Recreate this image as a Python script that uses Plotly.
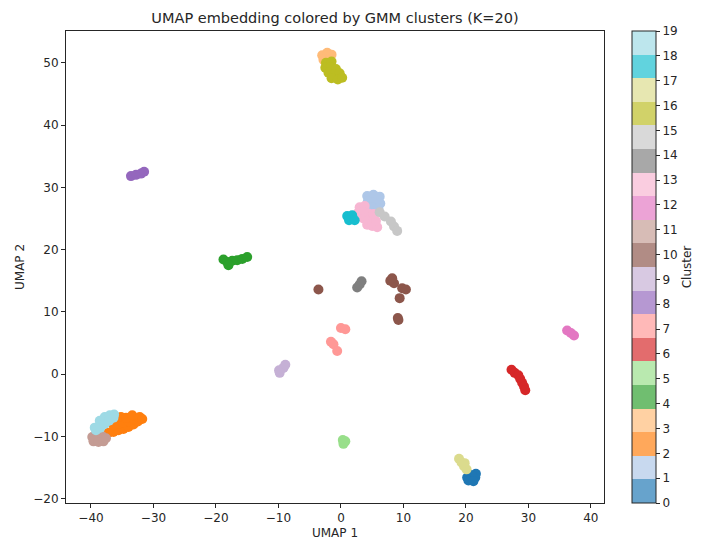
import plotly.graph_objects as go

# UMAP coordinates, grouped by GMM cluster label
umap1 = [
    20.2, 20.9, 21.5, 21.6, 20.6, 21.0, 20.4, 21.2,              # 0
    4.2, 5.2, 6.2, 4.3, 5.3, 6.3, 5.0, 6.0,                      # 1
    -37.2, -36.4, -35.6, -34.8, -34.0, -33.2, -32.5,
    -35.6, -34.8, -34.0, -33.2, -32.3,
    -35.2, -34.4, -33.4, -32.2, -31.8, -36.4,                    # 2
    -3.0, -2.2, -1.5, -2.8, -1.8,                                # 3
    -18.8, -18.2, -17.4, -16.6, -15.8, -15.0, -18.0,             # 4
    0.3, 0.7, 0.4,                                               # 5
    27.3, 27.8, 28.4, 28.7, 29.0, 29.3, 29.5,                    # 6
    0.0, 0.7, -1.6, -1.2, -0.6,                                  # 7
    -33.6, -32.8, -32.0, -31.5,                                  # 8
    -9.9, -9.2, -8.9, -9.8,                                      # 9
    -3.6, 7.9, 8.5, 8.2, 9.8, 10.4, 9.4, 9.1, 9.2,               # 10
    -39.8, -39.0, -38.2, -39.6, -38.8, -38.0, -37.6,             # 11
    36.2, 36.8, 37.3,                                            # 12
    3.0, 3.8, 2.8, 3.6, 4.4, 3.6, 4.4, 5.2, 4.2, 5.0, 5.8, 5.6, 5.2,  # 13
    2.6, 3.0, 3.3,                                               # 14
    6.2, 7.0, 8.0, 8.5, 9.0,                                     # 15
    -2.4, -1.5, -2.5, -1.6, -0.8, -2.0, -1.0, -0.2, -1.5, -0.5, 0.2,  # 16
    18.9, 19.3, 19.7, 20.1, 19.8,                                # 17
    1.0, 1.8, 1.3, 2.2,                                          # 18
    -39.4, -38.6, -37.8, -37.0, -36.3,
    -39.2, -38.5, -37.8, -37.1, -36.4,                           # 19
]
umap2 = [
    -16.6, -16.9, -16.6, -16.0, -16.2, -16.3, -17.1, -17.2,
    28.6, 28.8, 28.5, 27.7, 27.6, 27.4, 26.8, 26.6,
    -9.4, -9.3, -9.0, -8.8, -8.5, -8.1, -7.6,
    -8.0, -7.8, -7.6, -7.2, -7.1,
    -6.9, -7.0, -6.6, -6.9, -7.2, -8.2,
    51.2, 51.6, 51.3, 50.5, 50.6,
    18.4, 18.0, 18.2, 18.3, 18.5, 18.8, 17.5,
    -10.6, -10.8, -11.2,
    0.7, 0.2, -0.2, -0.8, -1.4, -2.0, -2.6,
    7.4, 7.2, 5.2, 4.8, 3.7,
    31.8, 32.0, 32.2, 32.5,
    0.6, 1.0, 1.5, 0.2,
    13.6, 15.0, 14.6, 15.4, 13.8, 13.6, 12.2, 9.0, 8.7,
    -10.1, -9.8, -10.0, -10.8, -10.9, -10.8, -10.3,
    7.0, 6.6, 6.2,
    26.8, 27.0, 26.0, 26.0, 25.8, 25.0, 24.8, 24.8, 24.0, 23.8, 23.6, 24.6, 25.7,
    13.9, 14.4, 14.9,
    26.0, 25.3, 24.5, 23.7, 23.0,
    50.0, 50.2, 49.2, 49.3, 49.0, 48.4, 48.2, 48.3, 47.5, 47.3, 47.6,
    -13.6, -14.2, -14.8, -15.3, -14.3,
    25.4, 25.5, 24.7, 24.7,
    -8.6, -7.5, -6.9, -6.6, -6.5,
    -9.0, -8.6, -8.0, -7.5, -7.0,
]
cluster_sizes = [8, 8, 18, 5, 7, 3, 7, 5, 4, 4, 9, 7, 3, 13, 3, 5, 11, 5, 4, 10]
cluster = [k for k, n in enumerate(cluster_sizes) for _ in range(n)]

cluster_ticks = list(range(20))

# matplotlib tab20
tab20 = [
    "#1f77b4", "#aec7e8", "#ff7f0e", "#ffbb78", "#2ca02c", "#98df8a",
    "#d62728", "#ff9896", "#9467bd", "#c5b0d5", "#8c564b", "#c49c94",
    "#e377c2", "#f7b6d2", "#7f7f7f", "#c7c7c7", "#bcbd22", "#dbdb8d",
    "#17becf", "#9edae5",
]


def faded(hex_color, alpha=0.68):
    r, g, b = (int(hex_color[i:i + 2], 16) for i in (1, 3, 5))
    mix = lambda c: round(c * alpha + 255 * (1 - alpha))
    return f"rgb({mix(r)},{mix(g)},{mix(b)})"


def step_scale(colors):
    n = len(colors)
    scale = []
    for i, c in enumerate(colors):
        scale.append([i / n, c])
        scale.append([(i + 1) / n, c])
    return scale


FONT = "DejaVu Sans"
INK = "#262626"
# page body adds an 8px margin, so the figure is 8px smaller and laid out from there
W, H = 698, 544

fig = go.Figure()
fig.add_trace(go.Scatter(
    x=umap1, y=umap2, mode="markers",
    marker=dict(color=cluster, colorscale=step_scale(tab20), cmin=0, cmax=19,
                size=10, opacity=1, line=dict(width=0)),
    showlegend=False, hoverinfo="skip",
))
# colour bar only (alpha-faded bins, as matplotlib draws them)
fig.add_trace(go.Scatter(
    x=[None], y=[None], mode="markers",
    marker=dict(
        color=[0, 19], colorscale=step_scale([faded(c) for c in tab20]),
        cmin=0, cmax=19, showscale=True,
        colorbar=dict(
            title=dict(text="Cluster", side="right", font=dict(size=12, color=INK)),
            tickvals=cluster_ticks, ticks="outside", ticklen=4, tickcolor=INK,
            tickfont=dict(size=12, color=INK),
            thickness=24, len=1.0, lenmode="fraction", y=0.5, yanchor="middle",
            x=1.052, xanchor="left", xpad=0, ypad=0,
            outlinewidth=1, outlinecolor=INK,
        ),
    ),
    showlegend=False, hoverinfo="skip",
))

axis = dict(showline=True, mirror=True, linecolor=INK, linewidth=1,
            ticks="outside", ticklen=4, tickcolor=INK, showgrid=False,
            zeroline=False, tickfont=dict(size=12, color=INK), dtick=10,
            automargin=False)

fig.update_layout(
    width=W, height=H,
    margin=dict(l=58, r=102, t=23, b=49, autoexpand=False),
    paper_bgcolor="white", plot_bgcolor="white",
    font=dict(family=FONT, color=INK),
    title=dict(text="UMAP embedding colored by GMM clusters (K=20)",
               x=(58 + 596) / 2 / W, xanchor="center", y=1 - 10 / H,
               yanchor="middle", font=dict(size=14.5, color=INK)),
    xaxis=dict(axis, range=[-44, 42.1],
               title=dict(text="UMAP 1", font=dict(size=12, color=INK), standoff=4)),
    yaxis=dict(axis, range=[-20.7, 55.1],
               title=dict(text="UMAP 2", font=dict(size=12, color=INK), standoff=6)),
)

fig.write_html("out.html")
